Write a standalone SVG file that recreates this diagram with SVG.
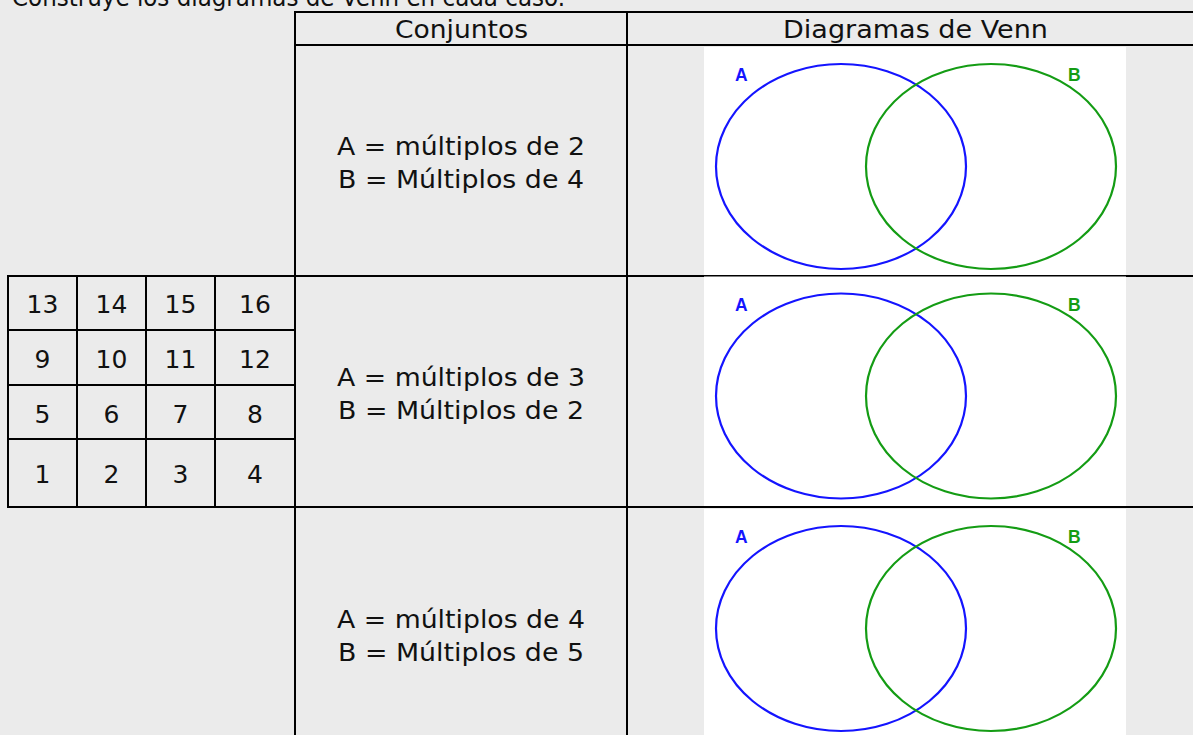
<svg xmlns="http://www.w3.org/2000/svg" width="1193" height="735" viewBox="0 0 1193 735">
<style>
.t{font-family:"DejaVu Sans","Verdana",sans-serif;font-size:24px;fill:#111}
.n{font-family:"DejaVu Sans","Verdana",sans-serif;font-size:25px;fill:#111;text-anchor:middle}
.ln{stroke:#000;stroke-width:2;fill:none}
.img{fill:#fff}
.ea{fill:none;stroke:#1414ff;stroke-width:2.2}
.eb{fill:none;stroke:#149c14;stroke-width:2.2}
.la{font-family:"Liberation Sans",Arial,sans-serif;font-weight:bold;font-size:17.5px;fill:#1414ff}
.lb{font-family:"Liberation Sans",Arial,sans-serif;font-weight:bold;font-size:17.5px;fill:#149c14}
</style>
<rect width="1193" height="735" fill="#ebebeb"/>
<text class="t" x="12" y="6" textLength="553" lengthAdjust="spacingAndGlyphs">Construye los diagramas de Venn en cada caso.</text>

<g id="connectors">
<path class="ln" d="M295 12H1193M295 45H1193M7 276H1193M7 507H1193M295 11V735M627 11V735"/>
<path class="ln" d="M8 275V508M77 276V507M146 276V507M215 276V507M8 330H295M8 385H295M8 439H295"/>
</g>

<g id="header">
<text class="t" x="395" y="38" textLength="133" lengthAdjust="spacingAndGlyphs">Conjuntos</text>
<text class="t" x="783" y="38" textLength="265" lengthAdjust="spacingAndGlyphs">Diagramas de Venn</text>
</g>

<g id="grid">
<text class="n" x="42.5" y="313">13</text><text class="n" x="111.5" y="313">14</text><text class="n" x="180.5" y="313">15</text><text class="n" x="255" y="313">16</text>
<text class="n" x="42.5" y="368">9</text><text class="n" x="111.5" y="368">10</text><text class="n" x="180.5" y="368">11</text><text class="n" x="255" y="368">12</text>
<text class="n" x="42.5" y="423">5</text><text class="n" x="111.5" y="423">6</text><text class="n" x="180.5" y="423">7</text><text class="n" x="255" y="423">8</text>
<text class="n" x="42.5" y="483">1</text><text class="n" x="111.5" y="483">2</text><text class="n" x="180.5" y="483">3</text><text class="n" x="255" y="483">4</text>
</g>

<g id="row1">
<text class="t" x="337" y="155" textLength="248" lengthAdjust="spacingAndGlyphs">A = múltiplos de 2</text>
<text class="t" x="338" y="188" textLength="246" lengthAdjust="spacingAndGlyphs">B = Múltiplos de 4</text>
<rect class="img" x="704" y="47" width="422" height="228"/>
<ellipse class="ea" cx="841" cy="166.5" rx="125" ry="102.5"/>
<ellipse class="eb" cx="991" cy="166.5" rx="125" ry="102.5"/>
<text class="la" x="735" y="81">A</text>
<text class="lb" x="1068" y="81">B</text>
</g>

<g id="row2">
<text class="t" x="337" y="386" textLength="248" lengthAdjust="spacingAndGlyphs">A = múltiplos de 3</text>
<text class="t" x="338" y="419" textLength="246" lengthAdjust="spacingAndGlyphs">B = Múltiplos de 2</text>
<rect class="img" x="704" y="276.5" width="422" height="229.5"/>
<ellipse class="ea" cx="841" cy="396" rx="125" ry="102.5"/>
<ellipse class="eb" cx="991" cy="396" rx="125" ry="102.5"/>
<text class="la" x="735" y="310.5">A</text>
<text class="lb" x="1068" y="310.5">B</text>
</g>

<g id="row3">
<text class="t" x="337" y="628" textLength="248" lengthAdjust="spacingAndGlyphs">A = múltiplos de 4</text>
<text class="t" x="338" y="661" textLength="246" lengthAdjust="spacingAndGlyphs">B = Múltiplos de 5</text>
<rect class="img" x="704" y="509" width="422" height="226"/>
<ellipse class="ea" cx="841" cy="628.5" rx="125" ry="102.5"/>
<ellipse class="eb" cx="991" cy="628.5" rx="125" ry="102.5"/>
<text class="la" x="735" y="543">A</text>
<text class="lb" x="1068" y="543">B</text>
</g>
</svg>
